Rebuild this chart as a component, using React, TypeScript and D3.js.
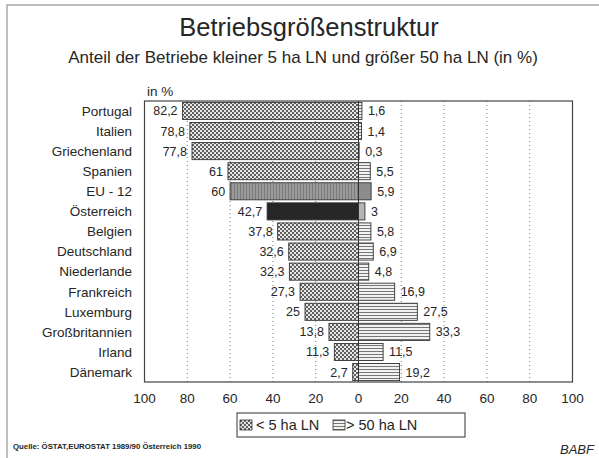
import React from "react";
import * as d3 from "d3";

const countries = [
  "Portugal", "Italien", "Griechenland", "Spanien", "EU - 12", "Österreich", "Belgien",
  "Deutschland", "Niederlande", "Frankreich", "Luxemburg", "Großbritannien", "Irland", "Dänemark",
];
const small = [82.2, 78.8, 77.8, 61, 60, 42.7, 37.8, 32.6, 32.3, 27.3, 25, 13.8, 11.3, 2.7];
const large = [1.6, 1.4, 0.3, 5.5, 5.9, 3, 5.8, 6.9, 4.8, 16.9, 27.5, 33.3, 11.5, 19.2];
const tickValues = [-100, -80, -60, -40, -20, 0, 20, 40, 60, 80, 100];
const gridValues = [-80, -60, -40, -20, 20, 40, 60, 80];
const legendLabels = ["< 5 ha LN", "> 50 ha LN"];

const FONT = "'Liberation Sans', Arial, Helvetica, sans-serif";
const fmt = (v: number) => String(v).replace(".", ",");
const INK = "#262626";

export default function App() {
  const x = d3.scaleLinear().domain([-100, 100]).range([144.5, 572.5]);
  const y = d3.scaleBand<string>().domain(countries).range([101, 382]).paddingInner(0.15).paddingOuter(0.07);
  const bh = y.bandwidth();
  const x0 = x(0);

  const leftFill = (c: string) =>
    c === "EU - 12" ? "url(#vstripe)" : c === "Österreich" ? "#262626" : "url(#checker)";
  const rightFill = (c: string) =>
    c === "EU - 12" ? "#8c8c8c" : c === "Österreich" ? "#b5b5b5" : "url(#hline)";

  return (
    <svg width={599} height={458} style={{ position: "absolute", left: 0, top: 0, background: "#fff" }} fontFamily={FONT}>
      <defs>
        <pattern id="checker" width={4} height={4} patternUnits="userSpaceOnUse">
          <rect width={4} height={4} fill="#e6e6e6" />
          <rect width={2} height={2} fill="#606060" />
          <rect x={2} y={2} width={2} height={2} fill="#606060" />
        </pattern>
        <pattern id="hline" width={4} height={3} patternUnits="userSpaceOnUse">
          <rect width={4} height={3} fill="#f2f2f2" />
          <rect y={0} width={4} height={1} fill="#777" />
        </pattern>
        <pattern id="vstripe" width={3} height={4} patternUnits="userSpaceOnUse">
          <rect width={3} height={4} fill="#9a9a9a" />
          <rect width={1} height={4} fill="#7a7a7a" />
        </pattern>
      </defs>

      <rect x={7} y={5} width={620} height={480} fill="none" stroke="#aaa" strokeWidth={1.5} />

      <text x={309} y={36} textAnchor="middle" fontSize={25.5} fill={INK}>Betriebsgrößenstruktur</text>
      <text x={303} y={63} textAnchor="middle" fontSize={17} fill={INK}>
        Anteil der Betriebe kleiner 5 ha LN und größer 50 ha LN (in %)
      </text>

      <text x={147} y={96} fontSize={13.5} fill={INK}>in %</text>

      {gridValues.map((g) => (
        <line key={g} x1={x(g)} x2={x(g)} y1={101} y2={382} stroke="#777" strokeWidth={1} strokeDasharray="1,3" />
      ))}

      {countries.map((c, i) => {
        const yy = y(c)!;
        const cy = yy + bh / 2;
        return (
          <g key={c}>
            <rect x={x(-small[i])} y={yy} width={x0 - x(-small[i])} height={bh} fill={leftFill(c)} stroke="#333" strokeWidth={0.9} />
            <rect x={x0} y={yy} width={x(large[i]) - x0} height={bh} fill={rightFill(c)} stroke="#333" strokeWidth={0.9} />
            <text x={x(-small[i]) - 5} y={cy} dy="0.36em" textAnchor="end" fontSize={12.5} fill={INK}>{fmt(small[i])}</text>
            <text x={x(large[i]) + 6} y={cy} dy="0.36em" fontSize={12.5} fill={INK}>{fmt(large[i])}</text>
            <text x={132} y={cy} dy="0.36em" textAnchor="end" fontSize={13.5} fill={INK}>{c}</text>
          </g>
        );
      })}

      <line x1={x0} x2={x0} y1={101} y2={382} stroke="#333" strokeWidth={1} />
      <rect x={144.5} y={101} width={428} height={281} fill="none" stroke="#444" strokeWidth={1.2} />

      {tickValues.map((t) => (
        <text key={t} x={x(t)} y={403} textAnchor="middle" fontSize={13.5} fill={INK}>{Math.abs(t)}</text>
      ))}

      <rect x={237} y={413} width={228} height={24} fill="#fff" stroke="#333" strokeWidth={1} />
      <rect x={240} y={420} width={12} height={10} fill="url(#checker)" stroke="#333" strokeWidth={0.8} />
      <text x={256} y={430} fontSize={14.5} fill={INK}>{legendLabels[0]}</text>
      <rect x={333} y={420} width={12} height={10} fill="url(#hline)" stroke="#333" strokeWidth={0.8} />
      <text x={346} y={430} fontSize={14.5} fill={INK}>{legendLabels[1]}</text>

      <text x={13} y={449} fontSize={6.5} fontWeight="bold" fill={INK} textLength={188} lengthAdjust="spacingAndGlyphs">
        Quelle: ÖSTAT,EUROSTAT 1989/90 Österreich 1990
      </text>
      <text x={594} y={454} textAnchor="end" fontSize={13} fontStyle="italic" fill={INK}>BABF</text>
    </svg>
  );
}
